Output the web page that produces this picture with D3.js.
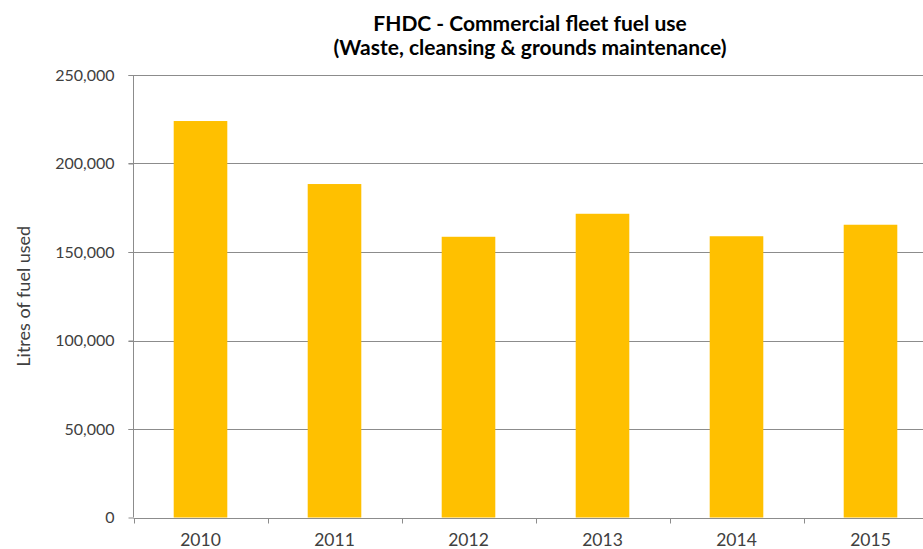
<!DOCTYPE html>
<html><head><meta charset="utf-8">
<script src="https://cdn.jsdelivr.net/npm/d3@7"></script>
<style>
html,body{margin:0;padding:0;background:#fff;overflow:hidden;}
svg{display:block;font-family:Lato,"Open Sans",sans-serif;}
</style></head>
<body>
<script>
const years = ["2010","2011","2012","2013","2014","2015"];
const fuelLitres = [224000, 188400, 158600, 171600, 158900, 165400];
const yTicks = [0, 50000, 100000, 150000, 200000, 250000];
const titleLines = ["FHDC - Commercial fleet fuel use", "(Waste, cleansing & grounds maintenance)"];
const yAxisTitle = "Litres of fuel used";

(function () {
const W = 923, H = 549;
const svg = d3.select("body").append("svg").attr("width", W).attr("height", H);
const pLeft = 133.5, pTop = 75, pBottom = 517.5, pRight = 133.5 + 6*134;

const x = d3.scaleBand().domain(years).range([pLeft, pRight]).paddingInner(0.6).paddingOuter(0.3);
const y = d3.scaleLinear().domain([0, 250000]).range([pBottom, pTop]);

// gridlines
svg.append("g").selectAll("line").data(yTicks.filter(d => d > 0)).join("line")
  .attr("x1", pLeft - 5).attr("x2", pRight)
  .attr("y1", d => Math.round(y(d)) + 0.5).attr("y2", d => Math.round(y(d)) + 0.5)
  .attr("stroke", "#8c8c8c").attr("stroke-width", 1);

// bars
svg.append("g").selectAll("rect").data(years).join("rect")
  .attr("x", d => x(d)).attr("width", x.bandwidth())
  .attr("y", (d, i) => y(fuelLitres[i])).attr("height", (d, i) => pBottom - y(fuelLitres[i]))
  .attr("fill", "#FFC000");

// y axis
const yAxis = d3.axisLeft(y).tickValues(yTicks).tickSize(5).tickPadding(14)
  .tickFormat(d3.format(","));
const gy = svg.append("g").attr("transform", `translate(${pLeft},0)`).call(yAxis);
gy.select(".domain").attr("stroke", "#8c8c8c").attr("d", `M0,${pTop}V${pBottom}`);
gy.selectAll(".tick line").attr("stroke", "#8c8c8c");
gy.selectAll(".tick text").attr("fill", "#404040").style("font-size", "16px")
  .style("font-family", "Lato, 'Open Sans', sans-serif");

// x axis
const xAxis = d3.axisBottom(x).tickSize(0).tickPadding(15);
const gx = svg.append("g").attr("transform", `translate(0,${Math.round(pBottom)+0.5})`).call(xAxis);
gx.select(".domain").attr("stroke", "#8c8c8c").attr("d", `M${pLeft},0H${pRight}`);
gx.selectAll(".tick text").attr("fill", "#404040").style("font-size", "17.5px")
  .style("font-family", "Lato, 'Open Sans', sans-serif");
// category boundary ticks
const bounds = d3.range(years.length + 1).map(i => pLeft + i * (pRight - pLeft) / years.length);
gx.append("g").selectAll("line").data(bounds).join("line")
  .attr("x1", d => Math.round(d) + 0.5).attr("x2", d => Math.round(d) + 0.5)
  .attr("y1", 0).attr("y2", 5).attr("stroke", "#8c8c8c");

// title
svg.append("g").selectAll("text").data(titleLines).join("text")
  .attr("x", 530).attr("y", (d, i) => 31 + i * 24)
  .attr("text-anchor", "middle").attr("font-weight", "bold").attr("font-size", 21)
  .attr("fill", "#000").text(d => d);

// y title
svg.append("text").attr("transform", `translate(30,${(pTop + pBottom) / 2}) rotate(-90)`)
  .attr("text-anchor", "middle").attr("font-size", 18).attr("fill", "#404040")
  .text(yAxisTitle);
})();
</script>
</body></html>
